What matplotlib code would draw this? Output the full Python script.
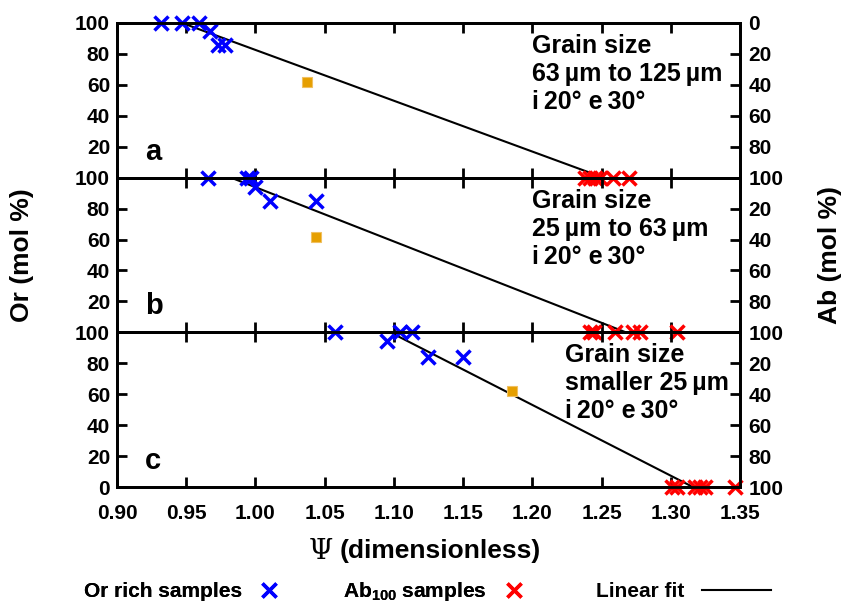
import matplotlib
matplotlib.use("Agg")
import matplotlib.pyplot as plt
from matplotlib.lines import Line2D

plt.rcParams["font.family"] = ["Liberation Sans", "DejaVu Sans"]
plt.rcParams["font.weight"] = "bold"
plt.rcParams["mathtext.fontset"] = "custom"
plt.rcParams["mathtext.rm"] = "Liberation Sans:bold"
plt.rcParams["mathtext.it"] = "Liberation Sans:bold"

# values
or_rich_a_x = [0.932, 0.947, 0.959, 0.967, 0.973, 0.978]
or_rich_a_y = [100, 100, 100, 95, 86, 86]
or_rich_b_x = [0.966, 0.994, 0.997, 1.000, 1.0105, 1.044]
or_rich_b_y = [100, 100, 100, 94, 85, 85]
or_rich_c_x = [1.0575, 1.095, 1.1045, 1.113, 1.125, 1.150]
or_rich_c_y = [100, 94, 100, 100, 84, 84]

ab100_a_x = [1.238, 1.242, 1.2454, 1.249, 1.2586, 1.2695]
ab100_b_x = [1.2418, 1.2442, 1.2598, 1.273, 1.278, 1.3044]
ab100_c_x = [1.3008, 1.3044, 1.3176, 1.3212, 1.3249, 1.3465]

odd_x = [1.037, 1.044, 1.185]
odd_y = [62, 62, 62]

fit_a_x = [0.947, 1.252]
fit_b_x = [0.983, 1.267]
fit_c_x = [1.097, 1.316]
fit_y = [100, 0]

panel_letters = ["a", "b", "c"]
panel_texts = [
    "Grain size\n63\u2009\u00b5m to 125\u2009\u00b5m\ni\u200920\u00b0 e\u200930\u00b0",
    "Grain size\n25\u2009\u00b5m to 63\u2009\u00b5m\ni\u200920\u00b0 e\u200930\u00b0",
    "Grain size\nsmaller 25\u2009\u00b5m\ni\u200920\u00b0 e\u200930\u00b0",
]
text_x = [0.666, 0.666, 0.719]
xticks = [0.90, 0.95, 1.00, 1.05, 1.10, 1.15, 1.20, 1.25, 1.30, 1.35]
yticks = [0, 20, 40, 60, 80, 100]

panels = [
    (or_rich_a_x, or_rich_a_y, ab100_a_x, fit_a_x, odd_x[0], odd_y[0]),
    (or_rich_b_x, or_rich_b_y, ab100_b_x, fit_b_x, odd_x[1], odd_y[1]),
    (or_rich_c_x, or_rich_c_y, ab100_c_x, fit_c_x, odd_x[2], odd_y[2]),
]

fig = plt.figure(figsize=(8.54, 6.05), dpi=100)
left, width = 0.137, 0.7295
bottoms = [0.7058, 0.4512, 0.195]
heights = [0.2562, 0.2546, 0.2562]

for i, (ox, oy, abx, fx, qx, qy) in enumerate(panels):
    ax = fig.add_axes([left, bottoms[i], width, heights[i]])
    ax.plot(fx, fit_y, color="black", lw=1.5, zorder=3)
    ax.plot(ox, oy, ls="", marker="x", ms=10, mew=2.5, color="blue",
            clip_on=False, zorder=5)
    ax.plot(abx, [0] * len(abx), ls="", marker="x", ms=10, mew=2.5,
            color="red", clip_on=False, zorder=5)
    ax.plot([qx], [qy], ls="", marker="s", ms=7.5, mfc="#e69f00",
            mec="#f0c060", mew=0.8, zorder=4)
    ax.set_xlim(0.90, 1.35)
    ax.set_ylim(0, 100)
    ax.set_xticks(xticks)
    ax.set_yticks(yticks)
    if i < 2:
        ax.set_xticklabels([])
        ax.set_yticklabels([""] + [str(v) for v in yticks[1:]])
    else:
        ax.set_xticklabels([f"{v:.2f}" for v in xticks])
    ax.tick_params(direction="in", length=7, width=2, top=True,
                   labelsize=15, pad=5)
    ax.tick_params(axis="x", pad=12)
    for s in ax.spines.values():
        s.set_linewidth(2)
    ax.patch.set_alpha(0)

    ax2 = ax.twinx()
    ax2.set_ylim(100, 0)
    ax2.set_yticks(yticks)
    if i == 0:
        ax2.set_yticklabels([str(v) for v in yticks])
    else:
        ax2.set_yticklabels([""] + [str(v) for v in yticks[1:]])
    ax2.tick_params(direction="in", length=7, width=2, labelsize=15, pad=6)
    for s in ax2.spines.values():
        s.set_linewidth(2)

    ax.text(0.045, 0.17, panel_letters[i], transform=ax.transAxes,
            fontsize=21, va="center", ha="left")
    ax.text(text_x[i], 0.93, panel_texts[i], transform=ax.transAxes,
            fontsize=18, va="top", ha="left", linespacing=1.22)

fig.text(0.026, 0.578, "Or (mol %)", rotation=90, fontsize=19,
         ha="center", va="center")
fig.text(0.972, 0.578, "Ab (mol %)", rotation=90, fontsize=19,
         ha="center", va="center")
fig.text(333 / 854, 0.089, "\u03a8", fontsize=20, family="DejaVu Serif",
         weight="normal", ha="right", va="center")
fig.text(340 / 854, 0.089, "(dimensionless)", fontsize=19,
         ha="left", va="center")

leg_kw = dict(frameon=False, markerfirst=False, fontsize=15, borderpad=0,
              borderaxespad=0, loc="center left")
h_or = Line2D([], [], ls="", marker="x", ms=10, mew=2.5, color="blue")
h_ab = Line2D([], [], ls="", marker="x", ms=10, mew=2.5, color="red")
h_fit = Line2D([], [], color="black", lw=1.5)
fig.add_artist(fig.legend([h_or], ["Or rich samples"],
                          bbox_to_anchor=(84 / 854, 0.0215),
                          handlelength=1.0, handletextpad=0.8, **leg_kw))
fig.add_artist(fig.legend([h_ab], ["Ab$_{\\mathrm{100}}$ samples"],
                          bbox_to_anchor=(343 / 854, 0.0215),
                          handlelength=1.0, handletextpad=0.8, **leg_kw))
fig.legend([h_fit], ["Linear fit"], bbox_to_anchor=(596 / 854, 0.0215),
           handlelength=3.3, handletextpad=0.85, **leg_kw)

fig.savefig("out.png", dpi=100)
